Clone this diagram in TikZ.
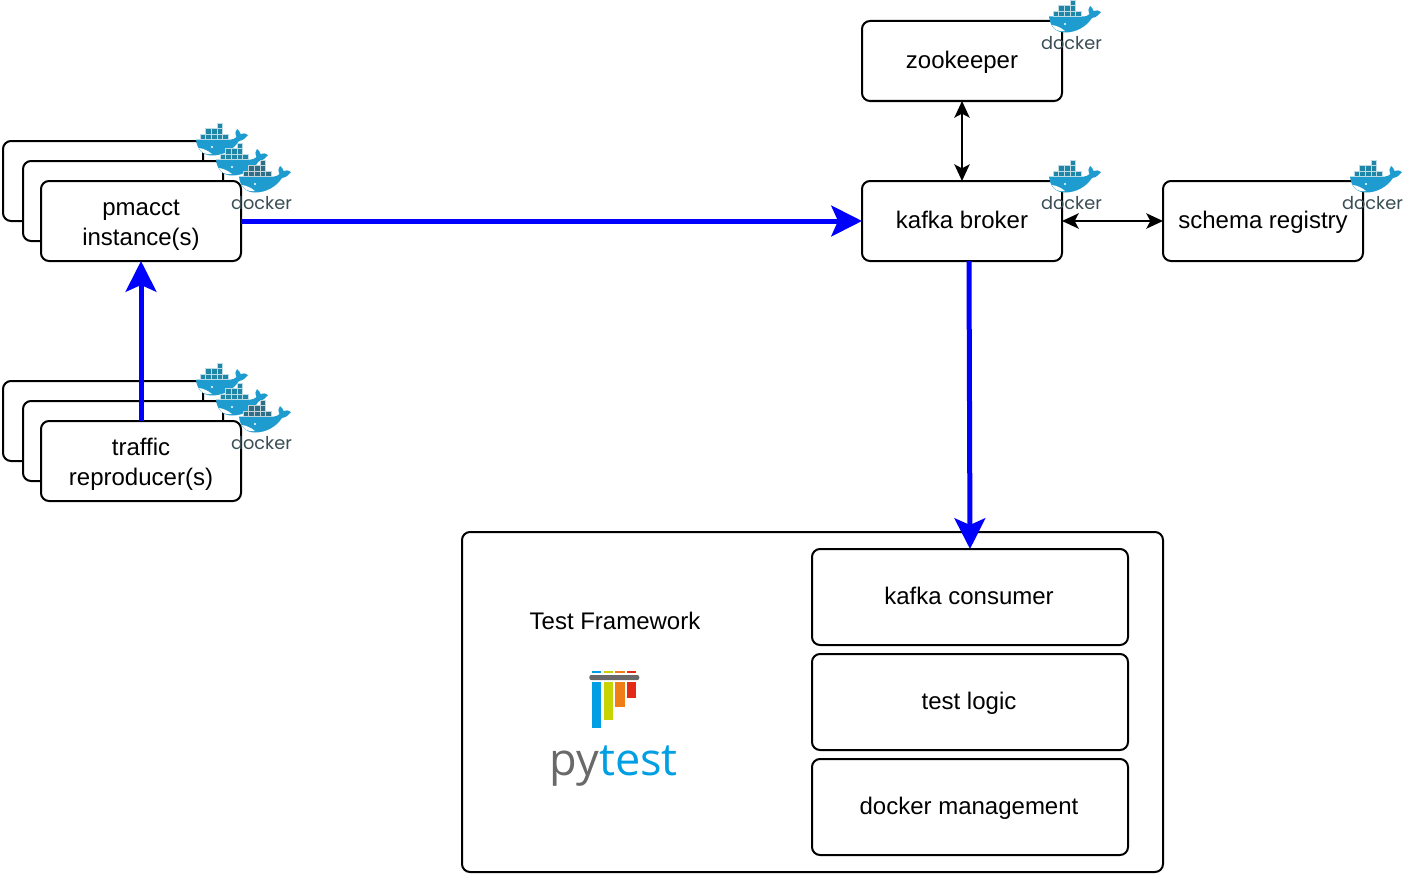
\documentclass[tikz,border=0pt]{standalone}
\usepackage{fontspec}
\setmainfont{Liberation Sans}
\newfontfamily\dockerfont{Poppins}
\newfontfamily\pytestfont{Open Sans}
\usetikzlibrary{arrows.meta}
\definecolor{whaleblue}{HTML}{1E9CD0}
\definecolor{crateblue}{HTML}{1F86A8}
\definecolor{cratedark}{HTML}{2F6F86}
\definecolor{dockergrey}{HTML}{394D54}
\definecolor{pyblue}{HTML}{009FE3}
\definecolor{pygreen}{HTML}{C7D302}
\definecolor{pyorange}{HTML}{F07E16}
\definecolor{pyred}{HTML}{E32A17}
\definecolor{pygrey}{HTML}{696969}
\tikzstyle{service} = [rectangle, rounded corners=6pt, minimum width=150pt, minimum height=60pt, outer sep=0pt, text centered, align=center, draw=black, fill=white, line width=1.5pt, font=\fontsize{18}{22.5}\selectfont, execute at begin node={\rule[-4.4pt]{0pt}{19.4pt}}]
\tikzstyle{twoline} = [service, execute at begin node={\rule[-4pt]{0pt}{45.5pt}}]
\tikzstyle{part} = [service, minimum width=237pt, minimum height=72pt, execute at end node={\hspace{1.5pt}}]
\tikzstyle{frame} = [service, minimum width=525.75pt, minimum height=255pt]
\tikzstyle{caption} = [font=\fontsize{18}{22.5}\selectfont, inner sep=0pt]
\tikzstyle{flow} = [line width=3.75pt, draw=blue, -{Stealth[length=23pt, width=23pt, inset=5pt]}]
\tikzstyle{link} = [line width=1.5pt, {Stealth[length=12.5pt, width=11.5pt, inset=3pt]}-{Stealth[length=12.5pt, width=11.5pt, inset=3pt]}]
\tikzset{
  pics/dockerwhale/.style={code={
    \fill[whaleblue] (9,16.5) -- (44,16.5) .. controls (46,16.5) and (48,15.5) .. (49.5,14) .. controls (48,11) and (48,8) .. (50,6) .. controls (52,7.5) and (53,9) .. (53.5,11) .. controls (56,10) and (59,10) .. (61,12) .. controls (59,15) and (56,17.5) .. (52,18) .. controls (46,27) and (36,32.5) .. (25,32.5) .. controls (15,32.5) and (10,26) .. (9,16.5) -- cycle;
    \fill[white] (12,25) .. controls (16,25.5) and (21,27.5) .. (25,31) .. controls (18,32) and (14,29.5) .. (12,25) -- cycle;
    \fill[white] (25,24) circle (1.2);
    \foreach \crate in {13,18.6,24.2,29.8,35.4}
      \fill[#1, draw=white!70!#1, line width=0.2pt] (\crate,11) rectangle ++(5.6,5.5);
    \foreach \crate in {18.6,24.2,29.8}
      \fill[#1, draw=white!70!#1, line width=0.2pt] (\crate,5.5) rectangle ++(5.6,5.5);
    \fill[#1, draw=white!70!#1, line width=0.2pt] (29.8,0) rectangle ++(5.6,5.5);
  }},
  pics/dockerlogo/.style={code={
    \pic {dockerwhale=#1};
    \node (word) at (31.5,43) [inner sep=0pt, text=dockergrey, font=\dockerfont\fontsize{13.3}{13.3}\selectfont] {docker};
  }}
}

\begin{document}
\begin{tikzpicture}[x=0.75pt, y=-0.75pt, node distance=120pt]

    \useasboundingbox (0,0) rectangle (1406,881);

    \node (pmacctback) at (103,181) [service] {};
    \pic at (187,123) {dockerwhale=crateblue};
    \node (pmacctmid) at (123,201) [service] {};
    \pic at (207,143) {dockerwhale=crateblue};
    \node (pmacct) at (141,221) [twoline] {pmacct\\instance(s)};
    \pic at (230,160) {dockerlogo=cratedark};

    \node (trafficback) at (103,421) [service] {};
    \pic at (187,363) {dockerwhale=crateblue};
    \node (trafficmid) at (123,441) [service] {};
    \pic at (207,383) {dockerwhale=crateblue};
    \node (traffic) at (141,461) [twoline] {traffic\\reproducer(s)};
    \pic at (230,400) {dockerlogo=cratedark};

    \node (kafka) at (962,221) [service] {kafka broker};
    \node (zookeeper) [service, above of=kafka] {zookeeper};
    \node (registry) [service, right of=kafka, node distance=225.75pt] {schema registry};
    \pic at (1040,0) {dockerlogo=crateblue};
    \pic at (1040,160) {dockerlogo=crateblue};
    \pic at (1341,160) {dockerlogo=crateblue};

    \node (framework) at (812.5,702) [frame] {};
    \node (logic) at (970,702) [part] {test logic};
    \node (consumer) [part, above of=logic, node distance=78.75pt] {kafka consumer};
    \node (management) [part, below of=logic, node distance=78.75pt] {docker management};
    \node (title) at (615,621) [caption] {Test Framework};

    \fill[pyblue] (591.7,681.7) rectangle (601,728);
    \fill[pygreen] (603.7,681.7) rectangle (612.7,720);
    \fill[pyorange] (615.3,681.7) rectangle (624.7,707);
    \fill[pyred] (627,681.7) rectangle (636.3,697.7);
    \fill[pyblue] (591.7,671) rectangle (601,673);
    \fill[pygreen] (603.7,671) rectangle (612.7,673);
    \fill[pyorange] (615.3,671) rectangle (624.7,673);
    \fill[pyred] (627,671) rectangle (636.3,673);
    \fill[pygrey, rounded corners=1.5pt] (589.3,675) rectangle (639.3,680);
    \node (pytest) at (549.5,775) [anchor=base west, inner sep=0pt, font=\pytestfont\fontsize{33.8}{33.8}\selectfont] {\textcolor{pygrey}{py}\textcolor{pyblue}{test}};

    \coordinate (kafkaout) at (969,261);

    \draw [flow] (traffic.north) -- (pmacct.south);
    \draw [flow] (pmacct.east) -- (kafka.west);
    \draw [flow] (kafkaout) -- (consumer.north);
    \draw [link] (zookeeper.south) -- (kafka.north);
    \draw [link] (kafka.east) -- (registry.west);

\end{tikzpicture}
\end{document}
